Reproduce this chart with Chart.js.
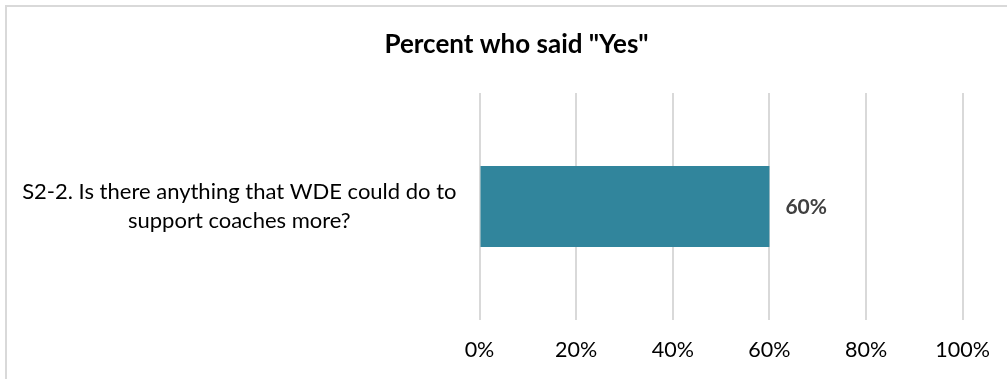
<!DOCTYPE html>
<html>
<head>
<meta charset="utf-8">
<script src="https://cdn.jsdelivr.net/npm/chart.js@4.4.1/dist/chart.umd.min.js"></script>
<style>
  html, body { margin: 0; padding: 0; background: #fff; overflow: hidden; }
  #wrap { position: relative; width: 1007px; height: 379px; }
  #frame {
    position: absolute; left: 5px; top: 5px; width: 1100px; height: 500px;
    border: 2px solid #d9d9d9; box-sizing: border-box;
  }
  canvas { position: absolute; left: 0; top: 0; }
</style>
</head>
<body>
<div id="wrap">
  <div id="frame"></div>
  <canvas id="chart" width="1007" height="379"></canvas>
</div>
<script>
// Survey question and share of respondents answering "Yes"
const categories = [["S2-2. Is there anything that WDE could do to", "support coaches more?"]];
const yesPercent = [60];
const tickValues = [0, 20, 40, 60, 80, 100];
const chartTitle = 'Percent who said "Yes"';

const FONT = "Lato, 'Noto Sans', sans-serif";

// Heading, centred over the frame rather than the canvas
const heading = {
  id: 'heading',
  afterDraw(chart) {
    const ctx = chart.ctx;
    ctx.save();
    ctx.font = "bold 26px " + FONT;
    ctx.fillStyle = '#000000';
    ctx.textAlign = 'center';
    ctx.textBaseline = 'middle';
    ctx.fillText(chartTitle, 516.5, 45);
    ctx.restore();
  }
};

// Writes each bar's value just past its end
const valueLabels = {
  id: 'valueLabels',
  afterDatasetsDraw(chart) {
    const ctx = chart.ctx;
    ctx.save();
    ctx.font = "bold 21px " + FONT;
    ctx.fillStyle = '#404040';
    ctx.textAlign = 'left';
    ctx.textBaseline = 'middle';
    chart.getDatasetMeta(0).data.forEach((bar, i) => {
      ctx.fillText(yesPercent[i] + '%', bar.x + 16, bar.y + 1);
    });
    ctx.restore();
  }
};

function build() {
  new Chart(document.getElementById('chart'), {
    type: 'bar',
    data: {
      labels: categories,
      datasets: [{
        data: yesPercent,
        backgroundColor: '#31859c',
        borderWidth: 0,
        categoryPercentage: 1,
        barPercentage: 0.357
      }]
    },
    options: {
      indexAxis: 'y',
      responsive: false,
      animation: false,
      events: [],
      layout: { padding: { left: 0, right: 43, top: 93, bottom: 0 } },
      plugins: {
        legend: { display: false },
        tooltip: { enabled: false },
        title: { display: false }
      },
      scales: {
        x: {
          min: 0,
          max: 100,
          afterBuildTicks(scale) {
            scale.ticks = tickValues.map(v => ({ value: v }));
          },
          afterFit(scale) { scale.height = 59; },
          grid: { color: '#d9d9d9', lineWidth: 2, drawTicks: false },
          border: { display: false },
          ticks: {
            padding: 17,
            color: '#000000',
            font: { family: FONT, size: 21.5 },
            callback: v => v + '%'
          }
        },
        y: {
          afterFit(scale) { scale.width = 479.5; },
          grid: { display: false },
          border: { display: false },
          ticks: {
            crossAlign: 'center',
            padding: 15,
            color: '#000000',
            font: { family: FONT, size: 22, lineHeight: '29px' }
          }
        }
      }
    },
    plugins: [valueLabels, heading]
  });
}

Promise.all([
  document.fonts.load("22px Lato"),
  document.fonts.load("bold 22px Lato")
]).catch(() => {}).then(build);
</script>
</body>
</html>
